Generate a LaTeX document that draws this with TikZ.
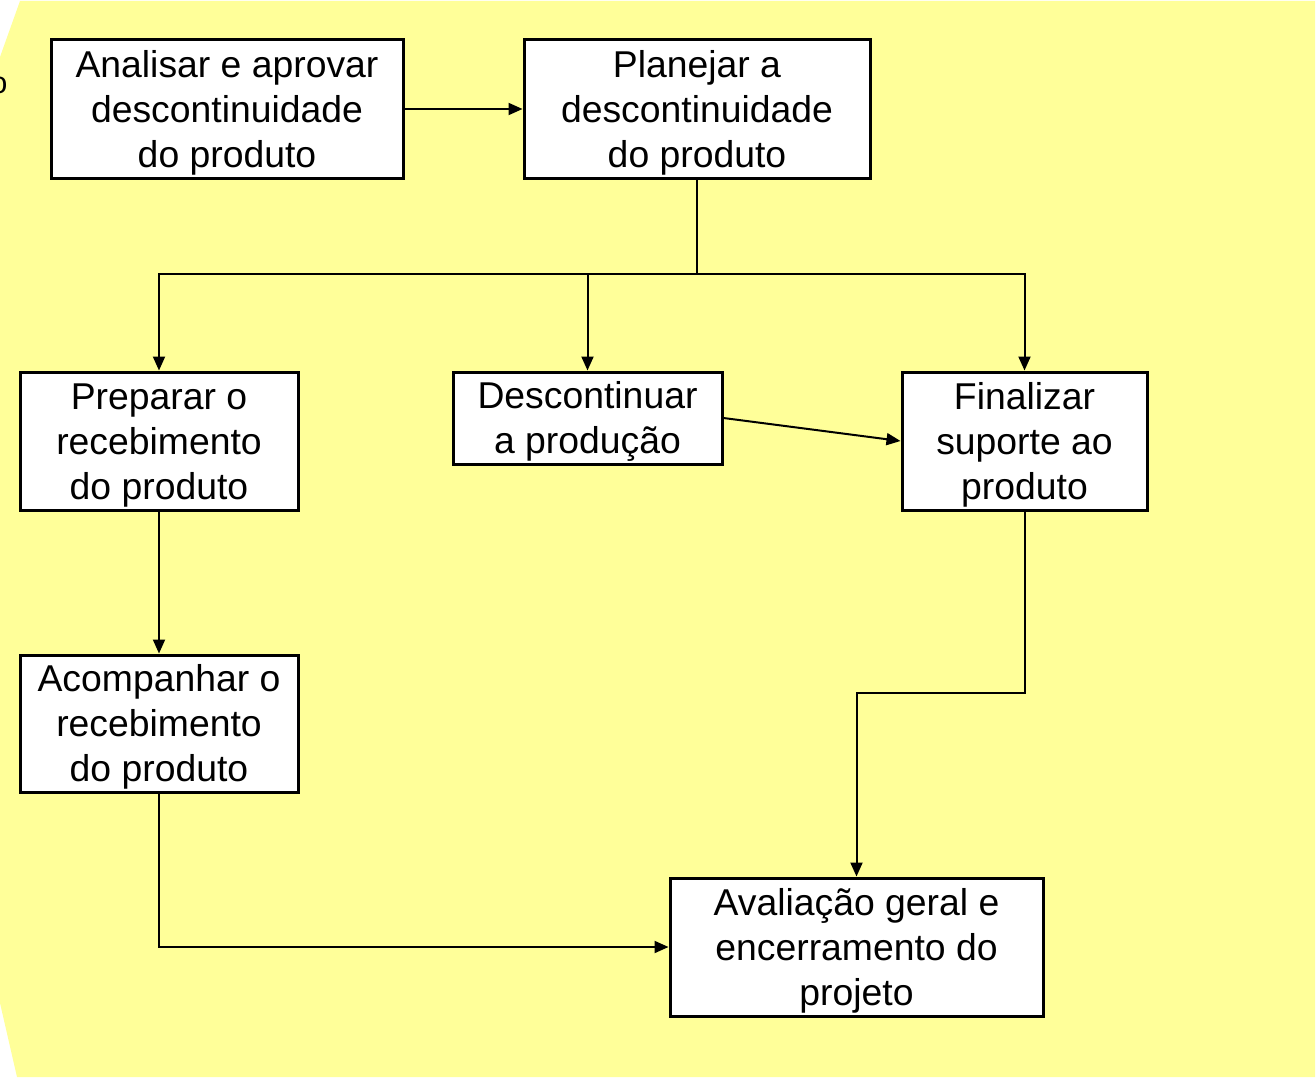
\documentclass[tikz,border=0pt]{standalone}
\usepackage{fontspec}
\setmainfont{Liberation Sans}
\usetikzlibrary{arrows.meta}
\definecolor{bgyellow}{HTML}{FFFF99}
\newcommand{\topstrut}{\rule{0pt}{25.4pt}}
\begin{document}
\begin{tikzpicture}[x=0.75pt,y=-0.75pt,
  box/.style={draw, line width=2.25pt, fill=white, inner sep=0pt, align=center,
    font=\fontsize{28}{33.75}\selectfont},
  link/.style={line width=1.5pt},
  conn/.style={line width=1.5pt, -{Triangle[length=10.5pt,width=9pt]}}]
\useasboundingbox (0,0) rectangle (1316,1081);
\fill[bgyellow] (20,1) -- (1315,1) -- (1315,1077) -- (17,1077) -- (0,1003) -- (0,57) -- cycle;
\node[font=\fontsize{23}{28}\selectfont, inner sep=0pt] (frag) at (-1,85) {o};

\node[box, minimum width=264pt, minimum height=103.5pt] (a) at (227,109)
  {\topstrut Analisar e aprovar\\descontinuidade\\do produto};
\node[box, minimum width=259.5pt, minimum height=103.5pt] (p) at (697,109)
  {\topstrut Planejar a\\descontinuidade\\do produto};
\node[box, minimum width=208.5pt, minimum height=103.5pt] (prep) at (159,441)
  {\topstrut Preparar o\\recebimento\\do produto};
\node[box, minimum width=201.75pt, minimum height=69pt] (desc) at (587.5,418)
  {\topstrut Descontinuar\\a produção};
\node[box, minimum width=183.75pt, minimum height=103.5pt] (fin) at (1024.5,441)
  {\topstrut Finalizar\\suporte ao\\produto};
\node[box, minimum width=208.5pt, minimum height=102.75pt] (acomp) at (159,723.5)
  {\topstrut Acompanhar o\\recebimento\\do produto};
\node[box, minimum width=279.75pt, minimum height=103.5pt] (aval) at (856.5,947)
  {\topstrut Avaliação geral e\\encerramento do\\projeto};

\coordinate (j) at (697,274);
\coordinate (k) at (856.5,693);

\draw[conn] (a) -- (p);
\draw[link] (p.south) -- (j);
\draw[conn] (j) -| (prep.north);
\draw[conn] (j) -| (desc.north);
\draw[conn] (j) -| (fin.north);
\draw[conn] (desc.east) -- (fin.west);
\draw[conn] (prep) -- (acomp);
\draw[conn] (fin.south) |- (k) -- (aval.north);
\draw[conn] (acomp.south) |- (aval.west);
\end{tikzpicture}
\end{document}
